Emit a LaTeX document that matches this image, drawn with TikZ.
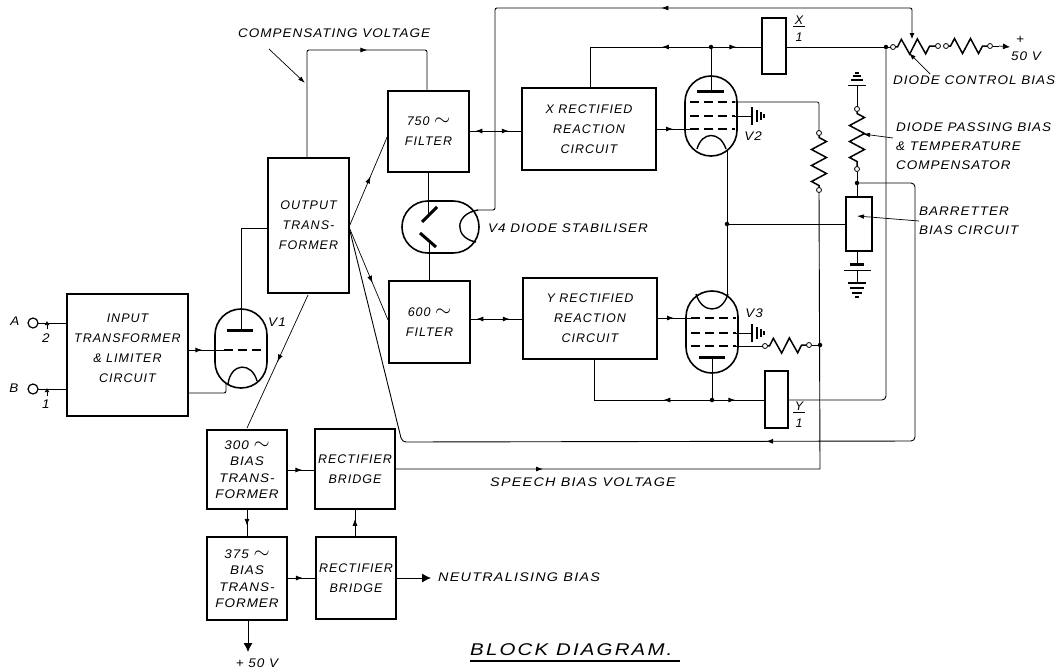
\documentclass[tikz,border=0pt]{standalone}
\usepackage{fontspec}
\setmainfont{Liberation Sans}[LetterSpace=8]
\newfontfamily\widefont{Liberation Sans}[FakeStretch=1.08, LetterSpace=8]
\newfontfamily\widerfont{Liberation Sans}[FakeStretch=1.15, LetterSpace=10]
\newfontfamily\titlefont{Liberation Sans}[FakeStretch=1.2, LetterSpace=13]
\usetikzlibrary{arrows.meta,decorations.markings,decorations.pathmorphing}
\newcommand{\acsign}{\smash{\huge$\sim$}}
\tikzset{
  blockbox/.style={draw, line width=1.8pt, inner sep=0pt, outer sep=0pt, align=center, font=\itshape\fontsize{12.5}{20}\selectfont},
  biasbox/.style={blockbox, font=\widefont\itshape\fontsize{12.5}{16.5}\selectfont},
  tube/.style={draw, line width=1.6pt, inner sep=0pt, outer sep=0pt, rounded corners=25.9pt},
  lettering/.style={inner sep=0pt, font=\widefont\itshape\fontsize{12.5}{19}\selectfont},
  wire/.style={line width=0.9pt},
  thinwire/.style={line width=0.7pt},
  bar/.style={line width=1.4pt},
  thickbar/.style={line width=3pt},
  griddash/.style={line width=1.6pt, dash pattern=on 9pt off 5pt},
  termdot/.style={draw, circle, fill=white, line width=0.8pt, minimum size=5pt, inner sep=0pt, outer sep=0pt},
  joindot/.style={circle, fill=black, minimum size=4.5pt, inner sep=0pt},
  resistor/.style={line width=1.5pt, decorate, decoration={zigzag, amplitude=7.5pt, segment length=16pt, pre=lineto, pre length=2pt, post=lineto, post length=2pt}},
  pointer/.style={thinwire, -{Latex[length=7pt,width=4.5pt]}},
  midarrow/.style={postaction={decorate, decoration={markings, mark=at position #1 with {\arrow{Latex[length=7pt,width=5pt]}}}}},
  midback/.style={postaction={decorate, decoration={markings, mark=at position #1 with {\arrowreversed{Latex[length=7pt,width=5pt]}}}}},
}
\begin{document}
\begin{tikzpicture}[x=1pt, y=-1pt]
\useasboundingbox (0,0) rectangle (1064,670);

% blocks
\node[blockbox, minimum width=121pt, minimum height=122pt] (input) at (127.5,355) {INPUT\\TRANSFORMER\\\& LIMITER\\CIRCUIT\\[-6pt]\mbox{}};
\node[blockbox, minimum width=81pt, minimum height=135pt] (output) at (308.5,225.5) {\mbox{}\\[-12pt]OUTPUT\\TRANS-\\FORMER};
\node[blockbox, minimum width=81pt, minimum height=81pt] (filtx) at (428.5,131.5) {750 \acsign\\FILTER};
\node[blockbox, minimum width=81pt, minimum height=82pt] (filty) at (429.5,322) {600 \acsign\\FILTER};
\node[blockbox, minimum width=134pt, minimum height=82pt] (reactx) at (589,129) {X RECTIFIED\\REACTION\\CIRCUIT};
\node[blockbox, minimum width=134pt, minimum height=81pt] (reacty) at (590,318.5) {Y RECTIFIED\\REACTION\\CIRCUIT};
\node[biasbox, minimum width=80pt, minimum height=79pt] (trans300) at (247,469.5) {300 \acsign\\BIAS\\TRANS-\\FORMER};
\node[biasbox, minimum width=80pt, minimum height=83pt] (trans375) at (247,578.5) {375 \acsign\\BIAS\\TRANS-\\FORMER};
\node[blockbox, minimum width=80pt, minimum height=80pt] (bridgea) at (355,469) {RECTIFIER\\BRIDGE};
\node[blockbox, minimum width=80pt, minimum height=82pt] (bridgeb) at (356,578) {RECTIFIER\\BRIDGE};
\node[blockbox, minimum width=24pt, minimum height=56pt] (ratiox) at (774,46) {};
\node[blockbox, minimum width=23pt, minimum height=57pt] (ratioy) at (776.5,399.5) {};
\node[blockbox, minimum width=26pt, minimum height=54pt] (barr) at (859,224) {};

% valves
\node[tube, minimum width=52pt, minimum height=79pt] (vone) at (241,348.5) {};
\node[tube, minimum width=52pt, minimum height=80pt] (vtwo) at (711,116) {};
\node[tube, minimum width=52pt, minimum height=82pt] (vthree) at (712,332) {};
\node[tube, minimum width=77pt, minimum height=52pt] (vfour) at (440.5,227) {};

% valve insides
\draw[thickbar] (227,330) -- (253,330);
\draw[griddash] (224,350) -- (263,350);
\draw[bar] (228,384) .. controls (231,362) and (252,362) .. (257,381);
\draw[thickbar] (697,91) -- (724,91);
\foreach \gy in {102,116,129} \draw[griddash] (690,\gy) -- (735,\gy);
\draw[bar] (697,149) .. controls (702,131) and (720,131) .. (726,149);
\draw[thickbar] (699,357) -- (725,357);
\foreach \gy in {318,333,346} \draw[griddash] (691,\gy) -- (736,\gy);
\draw[bar] (696,294) .. controls (702,314) and (722,314) .. (728,294);
\draw[thickbar] (422,222) -- (437,207);
\draw[thickbar] (420,233) -- (436,247);
\draw[bar] (478,210) .. controls (454,214) and (454,238) .. (476,242);

% named points
\coordinate (fan) at (349,227);
\coordinate (antop) at (241,330);
\coordinate (compa) at (427,50);
\coordinate (compb) at (307,50);
\coordinate (toprun) at (495,8);
\coordinate (wiper) at (912,36);
\coordinate (xrun) at (590,47);
\coordinate (yrun) at (594,400);
\coordinate (backrun) at (402,442);
\coordinate (backend) at (915,441);
\coordinate (speechend) at (820,469);
\coordinate (plusend) at (1010,47);
\coordinate (neutend) at (431,578);
\coordinate (plusdown) at (248,652);
\coordinate (gndtop) at (857,86);
\coordinate (gndlow) at (857,283);
\coordinate (cella) at (857,264);
\coordinate (cellb) at (857,270);
\coordinate (earthx) at (752,116);
\coordinate (earthy) at (752,333);

% terminals
\node[termdot, minimum size=10pt, line width=1.2pt] (terma) at (33,323) {};
\node[termdot, minimum size=10pt, line width=1.2pt] (termb) at (33,389) {};
\node[joindot] (xjoin) at (711,47) {};
\node[joindot] (yjoin) at (712,400) {};
\node[joindot] (railjoin) at (886,47) {};
\node[joindot] (cathjoin) at (727,224) {};
\node[joindot] (barrjoin) at (857,183) {};
\node[joindot] (screenjoin) at (820,345) {};
\node[termdot] (pota) at (893,47) {};
\node[termdot] (potb) at (938,46) {};
\node[termdot] (potc) at (946,46) {};
\node[termdot] (potd) at (990,46) {};
\node[termdot] (passa) at (857,109) {};
\node[termdot] (passb) at (857,169) {};
\node[termdot] (scra) at (819,133) {};
\node[termdot] (scrb) at (819,190) {};
\node[termdot] (scrc) at (765,346) {};
\node[termdot] (scrd) at (809,345) {};

% resistors
\draw[resistor] (pota) -- (potb);
\draw[resistor] (potc) -- (potd);
\draw[resistor] (passa) -- (passb);
\draw[resistor] (scra) -- (scrb);
\draw[resistor] (scrc) -- (scrd);

% input side
\draw[thinwire] (terma) -- (input.west |- terma);
\draw[thinwire] (termb) -- (input.west |- termb);
\draw[thinwire, -{Latex[length=4pt,width=5pt]}] (47,329) -- (47,321);
\draw[thinwire, -{Latex[length=4pt,width=5pt]}] (47,396) -- (47,388);
\draw[wire, midarrow=.4] (188,350) -- (224,350);
\draw[wire, rounded corners=2pt] (188,393) -- (226,393) -- (226,384);
\draw[wire] (antop) -- (241,228) -- (output.west |- 241,228);

% output fan
\draw[thinwire, midarrow=.55] (fan) -- (388,135);
\draw[thinwire, midarrow=.6] (fan) -- (388,320);
\draw[thinwire, midarrow=.5] (308,295) -- (trans300.north |- 248,428);
\draw[wire, midback=.56, rounded corners=4pt] (fan) -- (backrun) -- (backend) -- (barrjoin -| backend) -- (barrjoin);
\draw[wire, rounded corners=2pt, midarrow=.627] (output.north -| compb) -- (compb) -- (compa) -- (filtx.north -| compa);
\draw[pointer] (269,49) -- (305,83);

% filters and reaction
\draw[wire, midback=.12, midarrow=.75] (filtx.east |- 0,131) -- (reactx.west |- 0,131);
\draw[wire, midarrow=.75, midback=.12] (filty.east |- 0,319) -- (reacty.west |- 0,319);
\draw[wire] (filtx.south -| 428,0) -- (428,215);
\draw[wire] (filty.north -| 429,0) -- (429,240);
\draw[wire, rounded corners=2pt, midback=.58] (478,210) -- (495,210) -- (toprun) -- (wiper |- toprun) -- (wiper);
\draw[thinwire, -{Latex[length=6pt,width=5pt]}] (wiper) -- (912,39);

% x and y rails
\draw[wire, midback=.53, midarrow=.88] (reactx.north -| xrun) -- (xrun) -- (ratiox.west |- xrun);
\draw[wire] (ratiox.east |- xrun) -- (pota);
\draw[wire] (xjoin) -- (711,91);
\draw[wire, midback=.52, midarrow=.86] (reacty.south -| yrun) -- (yrun) -- (ratioy.west |- yrun);
\draw[wire, rounded corners=4pt] (ratioy.east |- yrun) -- (886,400) -- (railjoin);
\draw[wire] (yjoin) -- (712,357);

% grids to reaction circuits
\draw[wire, midarrow=.5] (reactx.east |- 0,129) -- (690,129);
\draw[wire, midarrow=.5] (reacty.east |- 0,318) -- (691,318);

% screens and earth
\draw[thinwire, rounded corners=2pt] (735,102) -- (819,102) -- (scra);
\draw[wire] (736,346) -- (scrc);
\draw[wire] (scrd) -- (screenjoin);
\draw[wire] (735,116) -- (earthx);
\draw[wire] (736,333) -- (earthy);
\foreach \ex/\eh in {752/9,757/6,761/4,764/2} \draw[bar] (\ex,116-\eh) -- (\ex,116+\eh);
\foreach \ex/\eh in {752/9,757/6,761/4,764/2} \draw[bar] (\ex,333-\eh) -- (\ex,333+\eh);
\draw[wire] (727,150) -- (cathjoin) -- (727,296);
\draw[wire] (cathjoin) -- (barr.west |- cathjoin);
\draw[wire, midarrow=.211] (bridgea.east |- speechend) -- (speechend) -- (scrb);

% barretter chain
\draw[wire] (gndtop) -- (passa);
\foreach \gy/\gw in {85.7/9,80/6,76/4,73/2} \draw[bar] (857-\gw,\gy) -- (857+\gw,\gy);
\draw[wire] (passb) -- (barrjoin) -- (barrjoin |- barr.north);
\draw[wire] (barrjoin |- barr.south) -- (cella);
\draw[thickbar] (850,264) -- (864,264);
\draw[wire] (844,270) -- (871,270);
\draw[wire] (cellb) -- (gndlow);
\foreach \gy/\gw in {283/9,288/7,293/5,297/2} \draw[bar] (857-\gw,\gy) -- (857+\gw,\gy);

% bias blocks
\draw[wire, midarrow=.55] (trans300.east |- 0,470) -- (bridgea.west |- 0,470);
\draw[wire, midarrow=.6] (trans300.south -| 247,0) -- (trans375.north -| 247,0);
\draw[wire, midarrow=.55] (trans375.east |- 0,578) -- (bridgeb.west |- 0,578);
\draw[wire, midarrow=.65] (bridgeb.north -| 355,0) -- (bridgea.south -| 355,0);
\draw[wire, -{Latex[length=9pt,width=9pt]}] (bridgeb.east) -- (neutend);
\draw[wire, -{Latex[length=9pt,width=9pt]}] (trans375.south -| plusdown) -- (plusdown);

% output end of the pot
\draw[thinwire] (potd) -- (999,46);
\draw[thinwire, -{Latex[length=7pt,width=6pt]}] (999,46) -- (plusend);

% pointers
\draw[pointer] (930,74) -- (909,53);
\draw[pointer] (893,138) -- (863,134);
\draw[pointer] (919,221) -- (857,216);

% labels
\node[lettering, anchor=west] (labcomp) at (238,33) {COMPENSATING VOLTAGE};
\node[lettering, anchor=west] (labvfour) at (488,228) {V4 DIODE STABILISER};
\node[lettering] (labvone) at (277,322) {V1};
\node[lettering] (labvtwo) at (753,136) {V2};
\node[lettering] (labvthree) at (754,313) {V3};
\node[lettering] (laba) at (15,321) {A};
\node[lettering] (labb) at (14,388) {B};
\node[lettering] (labtwo) at (46,338) {2};
\node[lettering] (labone) at (46,404) {1};
\node[lettering, align=center, font=\itshape\fontsize{12.5}{17}\selectfont] (labx) at (799,29) {\underline{\,X\,}\\1};
\node[lettering, align=center, font=\itshape\fontsize{12.5}{17}\selectfont] (laby) at (799,415) {\underline{\,Y\,}\\1};
\node[lettering] (labplus) at (1020,40) {+};
\node[lettering] (labfifty) at (1026,56) {50 V};
\node[lettering, anchor=west] (labdiode) at (893,80) {DIODE CONTROL BIAS};
\node[lettering, anchor=north west, align=left] (labpass) at (896,123) {DIODE PASSING BIAS\\\& TEMPERATURE\\COMPENSATOR};
\node[lettering, anchor=north west, align=left] (labbarr) at (919,207) {BARRETTER\\BIAS CIRCUIT};
\node[lettering, anchor=west, font=\widerfont\itshape\fontsize{12.5}{19}\selectfont] (labspeech) at (490,482) {SPEECH BIAS VOLTAGE};
\node[lettering, anchor=west, font=\widerfont\itshape\fontsize{12.5}{19}\selectfont] (labneut) at (438,577) {NEUTRALISING BIAS};
\node[lettering] (labfifteen) at (257,663) {+ 50 V};
\node[lettering, anchor=west, font=\titlefont\itshape\fontsize{17}{20}\selectfont] (labtitle) at (470,650) {BLOCK DIAGRAM.};
\coordinate (rulestart) at (470,661);
\coordinate (ruleend) at (680,661);
\draw[line width=1.2pt] (rulestart) -- (ruleend);
\end{tikzpicture}
\end{document}
